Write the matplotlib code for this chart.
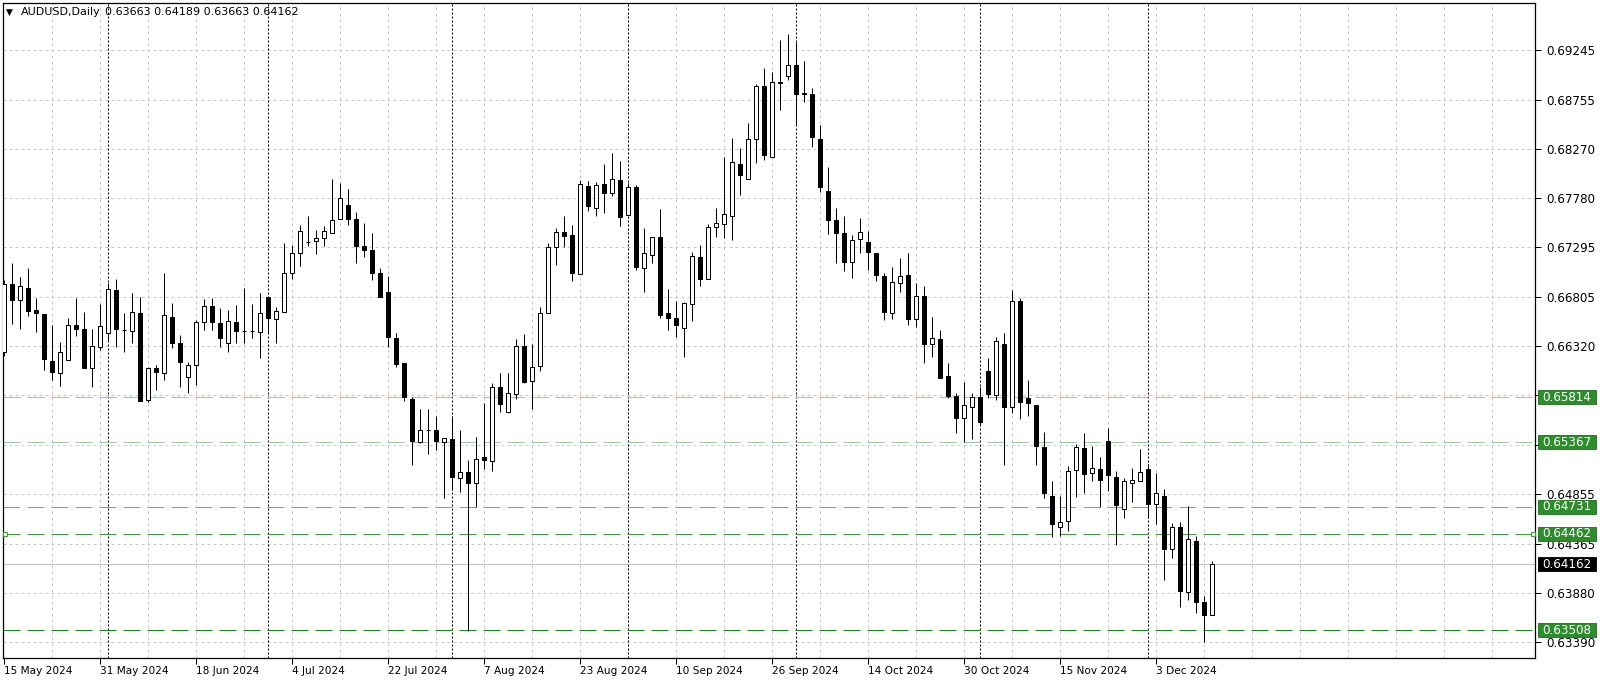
import matplotlib
matplotlib.use('Agg')
import matplotlib.pyplot as plt
from matplotlib.patches import Rectangle
import numpy as np
import pandas as pd

# daily AUDUSD candles
opens = [0.66264, 0.66930, 0.66775, 0.66897, 0.66676, 0.66640, 0.66175, 0.66057, 0.66182, 0.66528,
         0.66489, 0.66106, 0.66313, 0.66445, 0.66874, 0.66482, 0.66469, 0.66649, 0.65786, 0.66099,
         0.66050, 0.66610, 0.66353, 0.66016, 0.66132, 0.66554, 0.66718, 0.66550, 0.66353, 0.66554,
         0.66472, 0.66472, 0.66456, 0.66808, 0.66584, 0.66659, 0.67039, 0.67237, 0.67352, 0.67358,
         0.67385, 0.67435, 0.67573, 0.67715, 0.67576, 0.67309, 0.67270, 0.67045, 0.66854, 0.66402,
         0.66149, 0.65796, 0.65367, 0.65492, 0.65489, 0.65373, 0.65403, 0.65012, 0.65071, 0.64968,
         0.65220, 0.65186, 0.65918, 0.65670, 0.65845, 0.66323, 0.65977, 0.66125, 0.66643, 0.67302,
         0.67445, 0.67418, 0.67029, 0.67902, 0.67682, 0.67922, 0.67830, 0.67962, 0.67613, 0.67890,
         0.67094, 0.67220, 0.67401, 0.66643, 0.66600, 0.66495, 0.66735, 0.67203, 0.66980, 0.67494,
         0.67527, 0.67609, 0.68120, 0.67969, 0.68364, 0.68891, 0.68192, 0.68918, 0.68993, 0.69099,
         0.68822, 0.68809, 0.68367, 0.67856, 0.67566, 0.67441, 0.67154, 0.67375, 0.67352, 0.67243,
         0.67015, 0.66649, 0.66940, 0.67022, 0.66584, 0.66815, 0.66340, 0.66389, 0.66023, 0.65829,
         0.65611, 0.65720, 0.65813, 0.66073, 0.65836, 0.66340, 0.65720, 0.66765, 0.65809, 0.65737,
         0.65324, 0.64839, 0.64533, 0.64592, 0.65091, 0.65314, 0.65067, 0.65104, 0.65380, 0.65028,
         0.64708, 0.64968, 0.64988, 0.65104, 0.64757, 0.64839, 0.64309, 0.64533, 0.63890, 0.64394,
         0.63788, 0.63663]
highs = [0.66973, 0.67138, 0.67005, 0.67095, 0.66792, 0.66640, 0.66528, 0.66363, 0.66600, 0.66798,
         0.66659, 0.66485, 0.66732, 0.66940, 0.66979, 0.66649, 0.66841, 0.66808, 0.66115, 0.66132,
         0.67045, 0.66748, 0.66429, 0.66165, 0.66577, 0.66782, 0.66795, 0.66699, 0.66676, 0.66726,
         0.66891, 0.66732, 0.66847, 0.66808, 0.66709, 0.67336, 0.67319, 0.67517, 0.67606, 0.67467,
         0.67507, 0.67972, 0.67929, 0.67870, 0.67642, 0.67540, 0.67435, 0.67089, 0.67012, 0.66445,
         0.66155, 0.65819, 0.65694, 0.65694, 0.65628, 0.65413, 0.65628, 0.65489, 0.65193, 0.65423,
         0.65753, 0.65951, 0.66056, 0.66056, 0.66386, 0.66436, 0.66340, 0.66709, 0.67336, 0.67484,
         0.67606, 0.67517, 0.67962, 0.67955, 0.67945, 0.68120, 0.68232, 0.68150, 0.67929, 0.67912,
         0.67484, 0.67401, 0.67672, 0.66881, 0.66768, 0.66758, 0.67253, 0.67319, 0.67527, 0.67682,
         0.68192, 0.68374, 0.68275, 0.68523, 0.68908, 0.69067, 0.69027, 0.69346, 0.69403, 0.69330,
         0.69139, 0.68875, 0.68506, 0.68093, 0.67688, 0.67606, 0.67418, 0.67589, 0.67457, 0.67243,
         0.67045, 0.67104, 0.67194, 0.67237, 0.66946, 0.66913, 0.66610, 0.66479, 0.66149, 0.65852,
         0.65967, 0.65852, 0.65918, 0.66198, 0.66412, 0.66445, 0.66874, 0.66792, 0.65984, 0.65737,
         0.65467, 0.64988, 0.64837, 0.65134, 0.65348, 0.65457, 0.65334, 0.65225, 0.65506, 0.65087,
         0.65012, 0.65111, 0.65299, 0.65153, 0.65061, 0.64903, 0.64567, 0.64576, 0.64738, 0.64441,
         0.63848, 0.64189]
lows = [0.66222, 0.66538, 0.66485, 0.66617, 0.66462, 0.66083, 0.65984, 0.65928, 0.66182, 0.66419,
        0.66103, 0.65918, 0.66281, 0.66380, 0.66313, 0.66264, 0.66347, 0.65776, 0.65769, 0.65885,
        0.65984, 0.66297, 0.65918, 0.65852, 0.65935, 0.66479, 0.66479, 0.66313, 0.66258, 0.66353,
        0.66353, 0.66402, 0.66204, 0.66445, 0.66347, 0.66659, 0.66980, 0.67111, 0.67309, 0.67227,
        0.67309, 0.67435, 0.67573, 0.67517, 0.67138, 0.67203, 0.66973, 0.66802, 0.66313, 0.66115,
        0.65779, 0.65143, 0.65357, 0.65252, 0.65292, 0.64814, 0.64896, 0.64873, 0.63500, 0.64731,
        0.65101, 0.65087, 0.65670, 0.65660, 0.65796, 0.65951, 0.65697, 0.66076, 0.66643, 0.67121,
        0.67296, 0.66966, 0.67029, 0.67655, 0.67606, 0.67638, 0.67804, 0.67507, 0.67613, 0.67072,
        0.66857, 0.67138, 0.66594, 0.66479, 0.66412, 0.66214, 0.66570, 0.66914, 0.66980, 0.67401,
        0.67385, 0.67368, 0.67814, 0.67969, 0.68127, 0.68160, 0.68192, 0.68654, 0.68951, 0.68513,
        0.68730, 0.68285, 0.67846, 0.67425, 0.67138, 0.67062, 0.66993, 0.67237, 0.67072, 0.66966,
        0.66577, 0.66584, 0.66857, 0.66528, 0.66511, 0.66149, 0.66214, 0.66000, 0.65803, 0.65457,
        0.65374, 0.65397, 0.65539, 0.65803, 0.65786, 0.65143, 0.65654, 0.65595, 0.65628, 0.65143,
        0.64820, 0.64428, 0.64441, 0.64494, 0.64830, 0.64863, 0.64985, 0.64731, 0.64889, 0.64352,
        0.64622, 0.64780, 0.64988, 0.64619, 0.64560, 0.64006, 0.64220, 0.63742, 0.63808, 0.63676,
        0.63390, 0.63663]
closes = [0.66930, 0.66775, 0.66913, 0.66666, 0.66648, 0.66192, 0.66067, 0.66264, 0.66528, 0.66489,
          0.66103, 0.66320, 0.66518, 0.66884, 0.66489, 0.66476, 0.66659, 0.65776, 0.66099, 0.66066,
          0.66627, 0.66353, 0.66165, 0.66132, 0.66560, 0.66718, 0.66560, 0.66402, 0.66570, 0.66472,
          0.66469, 0.66466, 0.66643, 0.66594, 0.66669, 0.67039, 0.67243, 0.67460, 0.67349, 0.67391,
          0.67457, 0.67566, 0.67781, 0.67573, 0.67309, 0.67270, 0.67045, 0.66802, 0.66412, 0.66142,
          0.65819, 0.65383, 0.65489, 0.65486, 0.65383, 0.65413, 0.65028, 0.65071, 0.64968, 0.65200,
          0.65193, 0.65918, 0.65743, 0.65858, 0.66323, 0.65961, 0.66115, 0.66643, 0.67302, 0.67450,
          0.67408, 0.67045, 0.67922, 0.67705, 0.67912, 0.67836, 0.67969, 0.67599, 0.67890, 0.67104,
          0.67237, 0.67401, 0.66627, 0.66600, 0.66528, 0.66742, 0.67210, 0.66980, 0.67494, 0.67534,
          0.67626, 0.68143, 0.68011, 0.68364, 0.68891, 0.68209, 0.68928, 0.68934, 0.69099, 0.68809,
          0.68816, 0.68384, 0.67896, 0.67566, 0.67435, 0.67154, 0.67368, 0.67450, 0.67245, 0.67022,
          0.66659, 0.66956, 0.67012, 0.66587, 0.66815, 0.66340, 0.66402, 0.66000, 0.65826, 0.65611,
          0.65737, 0.65819, 0.65571, 0.65845, 0.66370, 0.65720, 0.66765, 0.65769, 0.65753, 0.65334,
          0.64869, 0.64557, 0.64576, 0.65087, 0.65324, 0.65054, 0.65117, 0.64995, 0.65044, 0.64747,
          0.64985, 0.64995, 0.65077, 0.64757, 0.64863, 0.64312, 0.64533, 0.63900, 0.64408, 0.63791,
          0.63663, 0.64162]

dates = pd.bdate_range('2024-05-15', periods=len(opens))

price_ticks = [0.69245, 0.68755, 0.68270, 0.67780, 0.67295, 0.66805, 0.66320,
               0.65835, 0.65345, 0.64855, 0.64365, 0.63880, 0.63390]
hidden_ticks = [0.65835, 0.65345]

levels = [0.65814, 0.65367, 0.64731, 0.64462, 0.63508]
level_colors = ['#9cc79c', '#9cc79c', '#6eae6e', '#3f9c3f', '#178a17']
bid = 0.64162

W, H = 1600, 682
fig = plt.figure(figsize=(W / 100, H / 100), dpi=100)
ax = fig.add_axes([3 / W, 1 - 658 / H, 1532 / W, 655 / H])
ax.set_xlim(-0.09, 191.41)
ax.set_ylim(0.632344, 0.697123)

px = 0.72  # one pixel in points

# grid
for v in price_ticks:
    ax.axhline(v, color='#c8c8c8', lw=px, dashes=(3, 3), zorder=1)
for i in range(6, 192, 6):
    ax.axvline(i, color='#c8c8c8', lw=px, dashes=(3, 3), zorder=1)

# month separators
for i in range(1, len(dates)):
    if dates[i].month != dates[i - 1].month:
        ax.axvline(i, color='black', lw=px, dashes=(2, 2), zorder=1.2)

# bid line
ax.axhline(bid, color='#c0c0c0', lw=px, zorder=1.5)

# horizontal levels
for v, c in zip(levels, level_colors):
    ax.axhline(v, color=c, lw=px, dashes=(17, 7), zorder=2)
ax.plot([0.16, 191.2], [levels[3], levels[3]], ls='none', marker='s', ms=3.5,
        mfc='white', mec=level_colors[3], mew=0.8, clip_on=False, zorder=6)

# candles
x = np.arange(len(opens))
o = np.array(opens)
c = np.array(closes)
ax.vlines(x, lows, highs, color='black', lw=px, zorder=3)
body_lo = np.minimum(o, c)
body_h = np.maximum(np.abs(c - o), 0.00002)
colors = ['white' if cc >= oo else 'black' for oo, cc in zip(o, c)]
ax.bar(x, body_h, bottom=body_lo, width=0.47, color=colors, edgecolor='black',
       linewidth=px, zorder=4)

# axes styling
for s in ax.spines.values():
    s.set_color('black')
    s.set_linewidth(0.9)

ax.yaxis.tick_right()
ax.set_yticks(price_ticks)
ax.set_yticklabels(['' if v in hidden_ticks else f'{v:.5f}' for v in price_ticks])
ax.tick_params(axis='y', direction='out', length=4, width=px, pad=4, labelsize=8.6,
               colors='black')

ax.set_xticks(x[::12])
ax.set_xticklabels([f'{d.day} {d:%b %Y}' for d in dates[::12]], ha='left')
ax.tick_params(axis='x', direction='out', length=4, width=px, pad=2, labelsize=7.6)

# price boxes on the scale
trans = ax.get_yaxis_transform()
box_x0 = 1.002
box_w = 58 / 1532
box_h = 14 * 0.0000989
for v, fc, ec in [(lv, '#2b8e2b', '#1c701c') for lv in levels] + [(bid, 'black', 'black')]:
    ax.add_patch(Rectangle((box_x0, v - box_h / 2), box_w, box_h, transform=trans,
                           fc=fc, ec=ec, lw=0.6, clip_on=False, zorder=9))
    ax.text(box_x0 + 4 / 1532, v, f'{v:.5f}', transform=trans, ha='left', va='center',
            fontsize=8.6, color='white', clip_on=False, zorder=10)

# header
fig.text(6 / W, 1 - 12 / H, '\u25bc', fontsize=6.5, va='center')
fig.text(21 / W, 1 - 12 / H, 'AUDUSD,Daily', fontsize=8, va='center')
fig.text(105 / W, 1 - 12 / H, '0.63663 0.64189 0.63663 0.64162', fontsize=8, va='center')

fig.savefig('out.png', dpi=100)
